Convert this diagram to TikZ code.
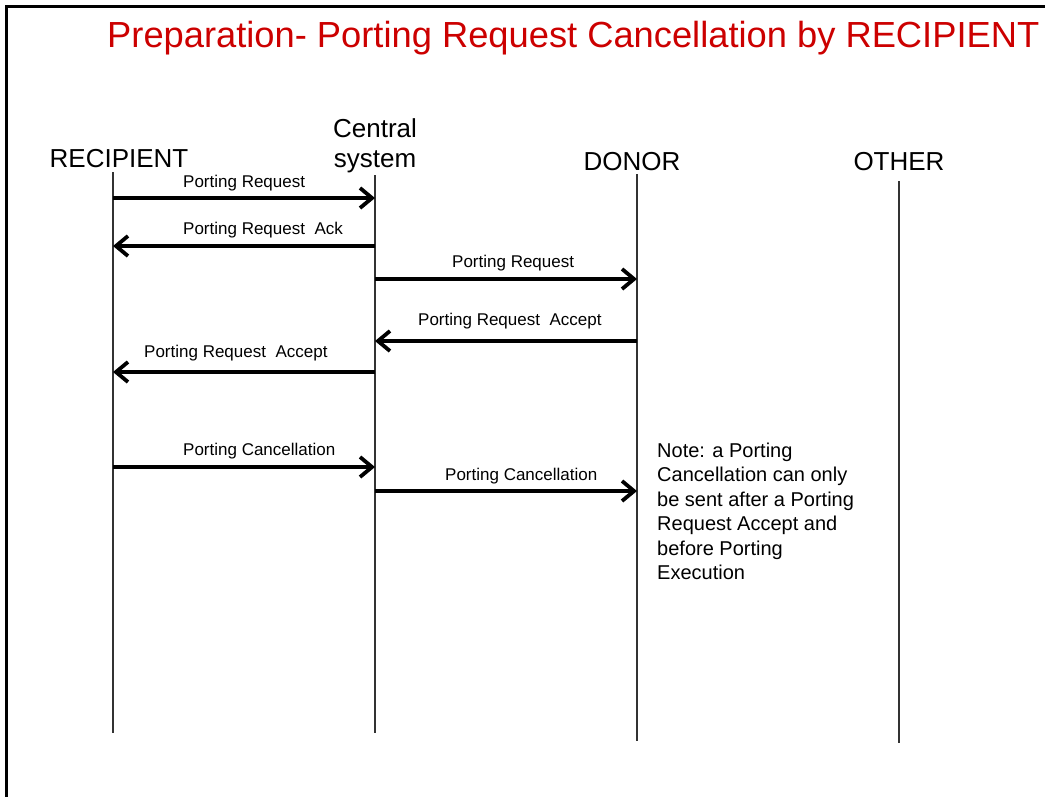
\documentclass[tikz,border=0pt]{standalone}
\usepackage{fontspec}
\setmainfont{Liberation Sans}
\usetikzlibrary{arrows.meta}
\definecolor{titlered}{HTML}{CC0000}
\definecolor{lifegray}{HTML}{333333}
\tikzset{
  title/.style={anchor=base west, inner sep=0pt, text=titlered, font=\fontsize{36.3}{40}\selectfont},
  actor/.style={anchor=base, inner sep=0pt, font=\fontsize{26}{30}\selectfont},
  lifeline/.style={draw=lifegray, line width=1.3pt},
  msg/.style={draw=black, line width=3.8pt, -{Straight Barb[length=12pt,width=20pt]}},
  msglabel/.style={anchor=base west, inner sep=0pt, font=\fontsize{17}{20}\selectfont},
  note/.style={anchor=base west, inner sep=0pt, align=left, font=\fontsize{20}{24.5}\selectfont},
  frameline/.style={draw=black, line width=3pt}
}
\begin{document}
\begin{tikzpicture}[x=1pt, y=-1pt]
\useasboundingbox (0,0) rectangle (1045,796);
% frame
\coordinate (fbl) at (6,800);
\coordinate (ftl) at (6,6);
\coordinate (ftr) at (1050,6);
\draw[frameline] (fbl) -- (ftl) -- (ftr);
% title
\node[title] (ttl) at (107,47) {Preparation- Porting Request Cancellation by RECIPIENT};
% actors
\node[actor] (recip) at (119,167) {RECIPIENT};
\node[actor, align=center, font=\fontsize{26}{29.5}\selectfont] (central) at (375,167) {Central\\system};
\node[actor] (donor) at (632,170) {DONOR};
\node[actor] (other) at (899,170) {OTHER};
% lifelines
\coordinate (rT) at (113,172); \coordinate (rB) at (113,733);
\coordinate (cT) at (375,175); \coordinate (cB) at (375,733);
\coordinate (dT) at (637,174); \coordinate (dB) at (637,741);
\coordinate (oT) at (899,181); \coordinate (oB) at (899,743);
\draw[lifeline] (rT) -- (rB);
\draw[lifeline] (cT) -- (cB);
\draw[lifeline] (dT) -- (dB);
\draw[lifeline] (oT) -- (oB);
% message end points
\coordinate (r1) at (113,198); \coordinate (c1) at (375,198);
\coordinate (r2) at (113,246); \coordinate (c2) at (375,246);
\coordinate (c3) at (375,279); \coordinate (d3) at (637,279);
\coordinate (c4) at (375,341); \coordinate (d4) at (637,341);
\coordinate (r5) at (113,372); \coordinate (c5) at (375,372);
\coordinate (r6) at (113,467); \coordinate (c6) at (375,467);
\coordinate (c7) at (375,491); \coordinate (d7) at (637,491);
% messages
\draw[msg] (r1) -- (c1);
\node[msglabel] (l1) at (183,187) {Porting Request};
\draw[msg] (c2) -- (r2);
\node[msglabel] (l2) at (183,234) {Porting Request\ \ Ack};
\draw[msg] (c3) -- (d3);
\node[msglabel] (l3) at (452,267) {Porting Request};
\draw[msg] (d4) -- (c4);
\node[msglabel] (l4) at (418,325) {Porting Request\ \ Accept};
\draw[msg] (c5) -- (r5);
\node[msglabel] (l5) at (144,357) {Porting Request\ \ Accept};
\draw[msg] (r6) -- (c6);
\node[msglabel] (l6) at (183,455) {Porting Cancellation};
\draw[msg] (c7) -- (d7);
\node[msglabel] (l7) at (445,480) {Porting Cancellation};
% note
\node[note] (nt) at (657,579.5) {Note: a Porting\\Cancellation can only\\be sent after a Porting\\Request Accept and\\before Porting\\Execution};
\end{tikzpicture}
\end{document}
